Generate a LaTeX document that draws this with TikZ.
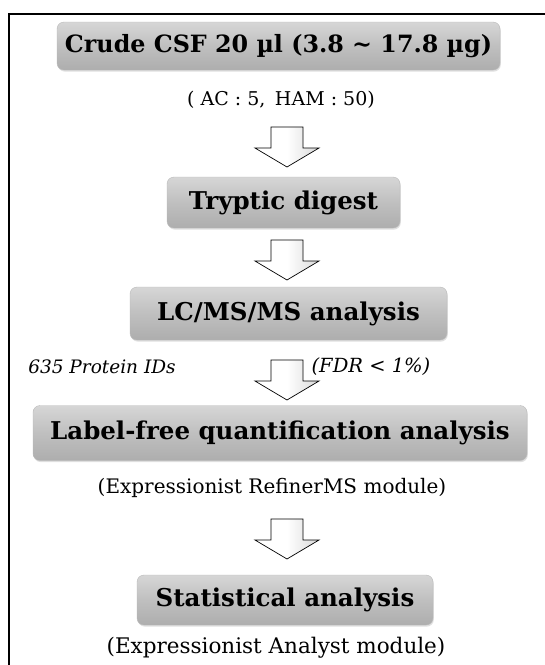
\documentclass[tikz,border=0pt]{standalone}
\usepackage{fontspec}
\setmainfont{DejaVu Serif}
\usetikzlibrary{shadows}

\tikzset{
  stage/.style={
    rounded corners=7pt, inner sep=0pt,
    top color=gray!32, bottom color=gray!64, middle color=gray!50,
    draw=gray!55, line width=0.4pt,
    drop shadow={opacity=0.25, shadow xshift=0.8pt, shadow yshift=-1.6pt},
    font=\bfseries\fontsize{24.5}{29}\selectfont, text=black
  },
  note/.style={inner sep=0pt, font=\fontsize{20}{24}\selectfont},
  inote/.style={inner sep=0pt, font=\itshape\fontsize{18.5}{22}\selectfont},
  pics/downarrow/.style={code={
    \path[left color=white, right color=gray!30, middle color=white, draw=black, line width=0.7pt, line join=miter]
      (-16,0) -- (16,0) -- (16,21) -- (32,21) -- (0,40) -- (-32,21) -- (-16,21) -- cycle;
  }}
}

\begin{document}
\begin{tikzpicture}[x=1pt, y=-1pt]
  \useasboundingbox (0,0) rectangle (545,665);
  \fill[white] (0,0) rectangle (545,665);

  % frame (open to the right and bottom)
  \draw[line width=1.6pt] (9,665) -- (9,14) -- (545,14);

  % stages
  \node[stage, minimum width=443pt, minimum height=48pt,
        font=\bfseries\fontsize{23.8}{28}\selectfont] (crude) at (278.5,46)
    {Crude CSF 20 µl (3.8 \textasciitilde{} 17.8 µg)};
  \node[note, font=\fontsize{19}{23}\selectfont] (groups) at (281,100)
    {( AC : 5,\enspace HAM : 50)};

  \node[stage, minimum width=233pt, minimum height=51pt] (digest) at (283.5,202.5)
    {Tryptic digest};

  \node[stage, minimum width=317pt, minimum height=53pt] (lcms) at (288.5,313.5)
    {LC/MS/MS analysis};
  \node[inote] (ids) at (102,367) {635 Protein IDs};
  \node[inote, font=\itshape\fontsize{19.5}{23}\selectfont] (fdr) at (371,367) {(FDR < 1\%)};

  \node[stage, minimum width=494pt, minimum height=55pt] (lfq) at (280,433)
    {Label-free quantification analysis};
  \node[note] (refiner) at (272,488) {(Expressionist RefinerMS module)};

  \node[stage, minimum width=296pt, minimum height=50pt] (stat) at (285,600)
    {Statistical analysis};
  \node[note, font=\fontsize{21.5}{25}\selectfont] (analyst) at (276,648)
    {(Expressionist Analyst module)};

  % block arrows between the stages
  \pic at (287,127) {downarrow};
  \pic at (287,240) {downarrow};
  \pic at (287,360) {downarrow};
  \pic at (287,519) {downarrow};
\end{tikzpicture}
\end{document}
